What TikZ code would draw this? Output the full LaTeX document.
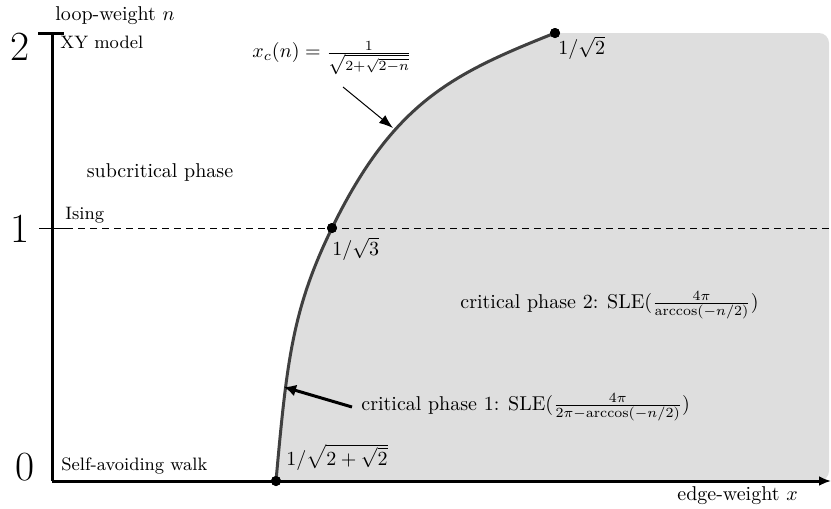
\documentclass[tikz,border=0pt]{standalone}
\usetikzlibrary{arrows.meta}
\definecolor{regiongray}{RGB}{222,222,222}
\definecolor{curvegray}{RGB}{64,64,64}
\begin{document}
\begin{tikzpicture}[x=0.5pt,y=-0.5pt,
  axisline/.style={line width=1.5pt,black},
  critcurve/.style={line width=1.5pt,curvegray},
  dotmark/.style={circle,fill=black,inner sep=0pt,minimum size=5pt},
  bignum/.style={font=\huge,inner sep=0pt,anchor=base},
  smalllabel/.style={font=\small,inner sep=0pt},
  plainlabel/.style={inner sep=0pt}]
\useasboundingbox (0,0) rectangle (831,509);
% shaded critical region
\fill[regiongray] (276,481) .. controls (286.8,361) and (292.4,309) .. (332,228)
  .. controls (393.6,102) and (452.7,73.7) .. (555,33)
  [rounded corners=5pt] -- (829,33) -- (829,481) [sharp corners] -- (276,481) -- cycle;
% coordinates
\coordinate (origin) at (52,481);
\coordinate (ytop) at (52,33);
\coordinate (xend) at (831,481);
\coordinate (tickTopL) at (38,33);
\coordinate (tickTopR) at (64,33);
\coordinate (tickOneL) at (39,228);
\coordinate (tickOneR) at (66,228);
\coordinate (dashEnd) at (831,228);
% dashed Ising line
\draw[line width=0.5pt] (tickOneL) -- (tickOneR);
\draw[line width=0.5pt,dash pattern=on 3.5pt off 2.5pt] (tickOneR) -- (dashEnd);
% dots (as named nodes)
\node[dotmark] (p0) at (276,481) {};
\node[dotmark] (p1) at (332,228) {};
\node[dotmark] (p2) at (555,33) {};
% critical curve
\draw[critcurve] (p0.center) .. controls (286.8,361) and (292.4,309) .. (p1.center)
  .. controls (393.6,102) and (452.7,73.7) .. (p2.center);
% axes
\draw[axisline] (ytop) -- (origin);
\draw[axisline,-{Latex[length=6pt,width=5pt]}] (origin) -- (xend);
\draw[axisline] (tickTopL) -- (tickTopR);
% redraw dots on top
\fill (p0) circle[radius=2.5pt];
\fill (p1) circle[radius=2.5pt];
\fill (p2) circle[radius=2.5pt];
% axis labels
\node[bignum] (n2) at (20,60) {2};
\node[bignum] (n1) at (20,242) {1};
\node[bignum] (n0) at (25,480) {0};
\node[plainlabel,anchor=base west] (ylab) at (55,20) {loop-weight $n$};
\node[plainlabel,anchor=base west] (xlab) at (677,500) {edge-weight $x$};
% model labels
\node[smalllabel,anchor=base west] (xy) at (60,48) {XY model};
\node[smalllabel,anchor=base west] (ising) at (65,219) {Ising};
\node[smalllabel,anchor=base west] (saw) at (61,470) {Self-avoiding walk};
\node[plainlabel,anchor=base] (sub) at (160,177) {subcritical phase};
% point values
\node[plainlabel,anchor=west] (v2) at (558,48) {$1/\sqrt{2}$};
\node[plainlabel,anchor=west] (v3) at (332,249) {$1/\sqrt{3}$};
\node[plainlabel,anchor=west] (v0) at (286,457) {$1/\sqrt{2+\sqrt{2}}$};
% phases
\node[plainlabel,anchor=west] (crit2) at (460,305) {critical phase 2: SLE$(\frac{4\pi}{\arccos(-n/2)})$};
\node[plainlabel,anchor=west] (crit1) at (361,407) {critical phase 1: SLE$(\frac{4\pi}{2\pi-\arccos(-n/2)})$};
\node[plainlabel,anchor=west] (formula) at (252,58) {$x_c(n)=\frac{1}{\sqrt{2+\sqrt{2-n}}}$};
% arrows
\coordinate (fstart) at (343,87);
\coordinate (ftip) at (393,128);
\coordinate (cstart) at (352,407);
\coordinate (ctip) at (284,387);
\draw[line width=0.5pt,-{Latex[length=7pt,width=5pt]}] (fstart) -- (ftip);
\draw[line width=1.5pt,-{Latex[length=6pt,width=6pt]}] (cstart) -- (ctip);
\end{tikzpicture}
\end{document}
